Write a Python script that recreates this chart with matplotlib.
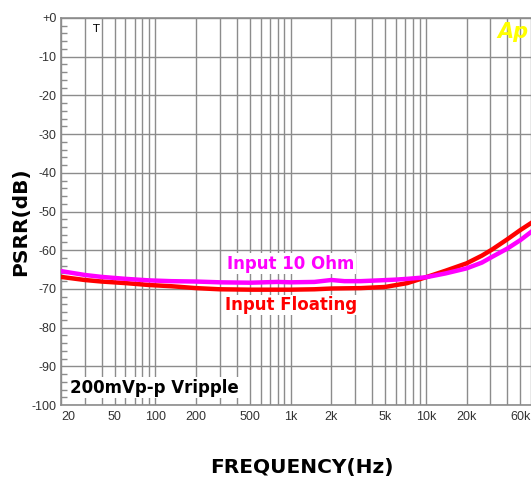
import matplotlib
matplotlib.use('Agg')
import matplotlib.pyplot as plt
from matplotlib.ticker import FixedLocator, MultipleLocator, NullFormatter

# frequency points (Hz) and PSRR (dB)
freq_10ohm = [20, 30, 40, 60, 90, 130, 200, 300, 500, 800, 1000, 1500, 2000, 2500,
              3300, 4500, 6000, 7300, 10000, 14000, 20000, 26000, 31000, 40000, 50000, 60000]
psrr_10ohm = [-65.4, -66.4, -66.9, -67.4, -67.8, -68.0, -68.1, -68.3, -68.4, -68.2, -68.3,
              -68.2, -67.7, -68.0, -68.0, -67.8, -67.6, -67.4, -67.0, -66.0, -64.7, -63.2,
              -61.7, -59.6, -57.4, -55.3]
freq_float = [20, 30, 40, 60, 90, 130, 200, 300, 500, 800, 1000, 1500, 2000, 3300,
              5000, 7300, 10000, 14000, 20000, 26000, 31000, 40000, 50000, 60000]
psrr_float = [-66.9, -67.7, -68.1, -68.5, -69.0, -69.3, -69.8, -70.1, -70.2, -70.2, -70.2,
              -70.1, -69.9, -69.8, -69.5, -68.5, -67.0, -65.3, -63.4, -61.4, -59.8, -57.2,
              -54.8, -53.0]

xtick_vals = [20, 50, 100, 200, 500, 1000, 2000, 5000, 10000, 20000, 60000]
xtick_text = ['20', '50', '100', '200', '500', '1k', '2k', '5k', '10k', '20k', '60k']
grid_freqs = [20, 30, 40, 50, 60, 70, 80, 90, 100, 200, 300, 400, 500, 600, 700, 800, 900,
              1000, 2000, 3000, 4000, 5000, 6000, 7000, 8000, 9000, 10000, 20000, 30000,
              40000, 50000, 60000]
ytick_vals = list(range(0, -101, -10))
ytick_text = ['+0'] + [str(v) for v in ytick_vals[1:]]

fig = plt.figure(figsize=(5.31, 4.84), dpi=100)
ax = fig.add_axes([61 / 531, 79 / 484, 1 - 61 / 531, 387 / 484])

gc = '#8c8c8c'
for f in grid_freqs:
    ax.axvline(f, color=gc, lw=1.0, zorder=1)
for v in ytick_vals:
    ax.axhline(v, color=gc, lw=1.0, zorder=1)

ax.plot(freq_float, psrr_float, color='#ff0000', lw=3.2, zorder=3)
ax.plot(freq_10ohm, psrr_10ohm, color='#ff00ff', lw=3.2, zorder=4)

ax.set_xscale('log')
ax.set_xlim(20, 60000)
ax.set_ylim(-100, 0)

ax.xaxis.set_major_locator(FixedLocator(xtick_vals))
ax.xaxis.set_minor_formatter(NullFormatter())
ax.xaxis.set_minor_locator(FixedLocator([]))
ax.set_xticklabels(xtick_text)
ax.set_yticks(ytick_vals)
ax.set_yticklabels(ytick_text)
ax.yaxis.set_minor_locator(MultipleLocator(2))
ax.tick_params(axis='x', length=0, pad=4, labelsize=9, colors='#333333')
ax.tick_params(axis='y', which='major', length=0, pad=3, labelsize=9, colors='#333333')
ax.tick_params(axis='y', which='minor', direction='in', length=4, color=gc, width=1)
for lab in ax.get_xticklabels() + ax.get_yticklabels():
    lab.set_family('Liberation Sans')
labs = ax.get_xticklabels()
labs[0].set_ha('left')
labs[-1].set_ha('right')

for s in ['left', 'top', 'bottom']:
    ax.spines[s].set_color(gc)
    ax.spines[s].set_linewidth(1.2)
ax.spines['right'].set_visible(False)

bbox = dict(facecolor='white', edgecolor='none', pad=1)
ax.text(1000, -63.5, 'Input 10 Ohm', color='#ff00ff', fontsize=12, fontweight='bold',
        ha='center', va='center', bbox=bbox, zorder=5)
ax.text(1000, -74.2, 'Input Floating', color='#ff0000', fontsize=12, fontweight='bold',
        ha='center', va='center', bbox=bbox, zorder=5)
ax.text(23.5, -95.5, '200mVp-p Vripple', color='black', fontsize=12, fontweight='bold',
        ha='left', va='center', bbox=bbox, zorder=5)
ax.text(0.075, 0.985, 'T', transform=ax.transAxes, fontsize=8, ha='center', va='top')
ax.text(0.995, 0.99, 'Ap', transform=ax.transAxes, fontsize=15, fontweight='bold',
        style='italic', color='#ffff00', ha='right', va='top')

fig.text(302 / 531, 1 - 468 / 484, 'FREQUENCY(Hz)', fontsize=14.5, fontweight='bold',
         ha='center', va='center')
fig.text(21 / 531, 1 - 222 / 484, 'PSRR(dB)', fontsize=14.5, fontweight='bold',
         rotation=90, ha='center', va='center')

fig.savefig('out.png', dpi=100)
